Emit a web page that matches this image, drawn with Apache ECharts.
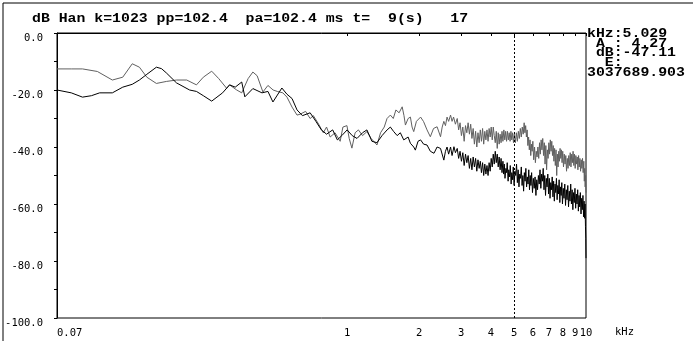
<!DOCTYPE html>
<html>
<head>
<meta charset="utf-8">
<script src="https://cdn.jsdelivr.net/npm/echarts@6/dist/echarts.min.js"></script>
<style>
  html, body { margin: 0; padding: 0; background: #fff; }
  #spec { width: 693px; height: 341px; }
</style>
</head>
<body>
<div id="spec"></div>
<script>
// header and cursor readout
const headerText = 'dB Han k=1023 pp=102.4  pa=102.4 ms t=  9(s)   17';
const cursorLines = ['kHz:5.029', ' A : 4.27', ' dB:-47.11', '  E:', '3037689.903'];
const cursorFreq = 5.029;

// axes
const freqMin = 0.061;
const freqMax = 10;
const freqTicks = [1, 2, 3, 4, 5, 6, 7, 8, 9, 10];
const dbMin = -100;
const dbMax = 0;

// gray trace [kHz, dB]
const grayTrace = [
  [0.061, -12.6], [0.07, -12.6], [0.078, -12.6], [0.09, -13.5], [0.104, -16.5], [0.115, -15.5],
  [0.126, -10.8], [0.135, -12], [0.145, -15.5], [0.159, -17.7], [0.175, -17], [0.193, -16.5],
  [0.213, -16.5], [0.234, -18.2], [0.25, -15.5], [0.271, -13.4], [0.29, -16], [0.313, -19.4],
  [0.322, -18.2], [0.345, -20], [0.362, -21], [0.385, -16], [0.403, -13.7], [0.42, -15],
  [0.444, -20.7], [0.466, -18.4], [0.49, -20], [0.51, -20.5], [0.538, -21], [0.56, -22.5],
  [0.588, -26], [0.617, -28.8], [0.635, -28.5], [0.67, -27.5], [0.7, -30], [0.722, -29],
  [0.76, -32], [0.795, -35], [0.82, -33], [0.849, -36.5], [0.89, -35], [0.935, -38],
  [0.96, -33], [0.998, -32.5], [1.02, -37], [1.047, -40.4], [1.08, -35], [1.115, -34],
  [1.16, -36], [1.21, -34.6], [1.26, -37], [1.333, -39.3], [1.38, -35], [1.43, -33],
  [1.469, -30], [1.517, -28.8], [1.56, -30], [1.6, -27], [1.65, -28], [1.7, -25.9],
  [1.73, -29], [1.754, -32.3], [1.8, -30], [1.84, -29.5], [1.87, -33], [1.9, -34.6],
  [1.95, -31], [2.03, -29.5], [2.09, -31.1], [2.16, -34], [2.23, -36.4], [2.3, -33.5],
  [2.38, -32.9], [2.46, -36.4],
  [2.50, -33], [2.54, -31], [2.58, -32.5], [2.62, -29.5], [2.66, -31], [2.71, -28.8], [2.75, -31],
  [2.79, -29.5], [2.84, -32], [2.89, -30], [2.93, -34], [2.97, -31.5], [3.01, -36], [3.05, -33],
  [3.09, -38], [3.13, -32.5], [3.17, -35], [3.21, -31.5], [3.25, -35.5], [3.29, -32], [3.33, -37],
  [3.37, -33.5], [3.41, -39], [3.45, -34.5], [3.49, -40], [3.53, -35], [3.57, -38.5], [3.61, -34],
  [3.65, -38], [3.69, -33.5], [3.73, -39], [3.77, -34.5], [3.81, -37.5], [3.85, -34], [3.89, -38],
  [3.93, -33.5], [3.97, -36.5], [4.01, -33], [4.05, -37.5], [4.09, -33], [4.13, -36], [4.17, -38.5],
  [4.21, -34.5], [4.25, -40.5], [4.29, -35], [4.33, -39], [4.37, -35.5], [4.41, -38.5], [4.45, -34.5],
  [4.49, -38], [4.53, -34], [4.57, -37.5], [4.61, -34.5], [4.65, -38], [4.69, -34.5], [4.73, -37.5],
  [4.77, -35], [4.81, -38], [4.85, -34.5], [4.89, -37.5], [4.93, -35], [4.97, -38.5], [5.01, -35.5],
  [5.06, -38.5], [5.11, -35], [5.16, -38], [5.21, -34.5], [5.26, -37], [5.31, -33.5], [5.36, -36.5],
  [5.41, -33], [5.46, -35.5],
  [5.51, -31.5], [5.55, -35], [5.59, -32.5], [5.63, -36.5], [5.67, -34], [5.71, -39.5], [5.75, -36.5],
  [5.79, -41], [5.83, -37.5], [5.87, -43], [5.91, -39], [5.95, -41.5], [5.99, -38], [6.04, -44.5],
  [6.09, -40], [6.14, -45.5], [6.19, -41.5], [6.24, -43.5], [6.29, -40], [6.34, -44], [6.39, -38.5],
  [6.44, -42.5], [6.49, -37.5], [6.54, -41], [6.59, -37], [6.64, -43], [6.69, -38.5], [6.74, -46],
  [6.79, -39.5], [6.84, -48], [6.89, -41], [6.94, -44], [6.99, -38.5], [7.04, -42.5], [7.09, -37.5],
  [7.14, -41.5], [7.19, -38], [7.24, -43], [7.29, -39.5], [7.34, -45], [7.39, -40.5], [7.44, -46.5],
  [7.49, -41], [7.54, -50], [7.59, -42.5], [7.64, -47], [7.69, -41.5], [7.74, -45], [7.79, -40.5],
  [7.84, -44], [7.89, -41], [7.94, -45.5], [7.99, -41.5], [8.05, -47], [8.11, -42.5], [8.17, -46],
  [8.23, -43], [8.29, -48.5], [8.35, -44], [8.41, -47.5], [8.47, -43], [8.53, -46.5], [8.59, -42],
  [8.65, -47], [8.71, -42.5], [8.77, -45.5], [8.83, -41.5], [8.89, -46.5], [8.95, -42.5], [9.01, -47.5],
  [9.07, -43], [9.13, -46], [9.19, -43.5], [9.25, -48], [9.31, -43], [9.37, -47], [9.43, -44],
  [9.49, -48.5], [9.55, -44.5], [9.61, -47.5], [9.67, -44], [9.73, -49], [9.79, -45], [9.84, -52],
  [9.88, -47.5], [9.92, -54], [9.96, -50], [10.0, -56]
];

// black trace [kHz, dB]
const blackTrace = [
  [0.061, -20], [0.07, -21], [0.078, -22.5], [0.085, -22], [0.092, -21], [0.104, -21],
  [0.115, -19], [0.126, -18], [0.135, -16.5], [0.145, -14.5], [0.159, -12], [0.167, -12.5],
  [0.175, -14], [0.193, -17.5], [0.219, -20], [0.234, -20.5], [0.25, -22], [0.271, -23.9],
  [0.301, -21], [0.322, -18.2], [0.34, -19], [0.362, -17.2], [0.373, -22.4], [0.403, -19.5],
  [0.44, -21], [0.466, -20.5], [0.489, -24.2], [0.533, -19.3], [0.56, -21.5], [0.588, -23],
  [0.617, -27], [0.65, -29], [0.7, -28], [0.74, -31], [0.78, -34], [0.82, -35.5],
  [0.87, -34], [0.91, -37.5], [0.95, -36], [1.0, -34], [1.05, -36], [1.1, -37],
  [1.16, -35], [1.21, -34], [1.27, -38], [1.333, -38.5], [1.4, -36], [1.47, -34],
  [1.517, -33], [1.567, -34.6], [1.62, -36], [1.67, -35], [1.726, -37.5], [1.754, -38],
  [1.8, -36.5], [1.84, -38.7], [1.9, -40], [1.93, -41.1], [1.98, -38], [2.03, -37.5],
  [2.09, -39], [2.16, -39.3], [2.23, -41.5], [2.31, -42.2], [2.38, -40], [2.46, -40.5],
  [2.50, -41], [2.54, -44.6], [2.58, -41.5], [2.62, -40], [2.66, -42.5], [2.71, -40], [2.75, -43],
  [2.80, -39.9], [2.84, -42], [2.89, -40.5], [2.93, -44], [2.97, -41.5], [3.01, -45], [3.05, -42],
  [3.09, -46.5], [3.13, -42.5], [3.17, -45.5], [3.21, -43], [3.25, -47.5], [3.29, -44], [3.33, -48],
  [3.37, -43.5], [3.41, -47], [3.45, -44], [3.49, -48.5], [3.53, -44.5], [3.57, -47.5], [3.61, -45],
  [3.65, -49], [3.69, -45.5], [3.73, -50], [3.77, -46], [3.81, -49.5], [3.85, -46.5], [3.89, -50],
  [3.93, -45.5], [3.97, -48.5], [4.01, -44], [4.05, -47], [4.09, -42.5], [4.13, -46], [4.17, -41.5],
  [4.21, -45.5], [4.25, -42.5], [4.29, -47], [4.33, -43.5], [4.37, -48], [4.41, -44], [4.45, -49],
  [4.49, -45], [4.52, -49.5], [4.55, -46], [4.58, -51], [4.62, -47.5], [4.65, -49], [4.68, -45.5],
  [4.72, -52], [4.75, -48], [4.79, -50.5], [4.82, -46.5], [4.86, -53], [4.89, -49], [4.93, -51.5],
  [4.96, -47], [5.00, -53.5], [5.04, -48.5], [5.08, -50], [5.12, -46], [5.16, -52.5], [5.20, -48],
  [5.24, -54], [5.28, -49.5], [5.32, -51], [5.36, -47], [5.40, -53.5], [5.44, -50], [5.48, -55.5],
  [5.52, -49], [5.56, -52], [5.60, -47.5], [5.64, -54], [5.68, -50.5], [5.72, -53], [5.76, -48],
  [5.80, -55], [5.84, -50], [5.88, -53.5], [5.92, -49], [5.97, -56], [6.02, -51], [6.07, -54.5],
  [6.12, -50.5], [6.17, -57], [6.22, -51.5], [6.27, -55], [6.32, -50], [6.37, -53], [6.42, -48],
  [6.47, -54.5], [6.52, -49.5], [6.57, -52], [6.62, -47.5], [6.67, -55], [6.72, -50], [6.77, -57],
  [6.82, -51], [6.87, -54], [6.92, -49.5], [6.97, -56.5], [7.02, -51], [7.07, -58], [7.12, -52.5],
  [7.17, -55], [7.22, -50.5], [7.27, -57.5], [7.32, -52], [7.37, -59], [7.42, -53], [7.47, -56],
  [7.52, -51], [7.57, -58.5], [7.62, -53.5], [7.67, -56.5], [7.72, -51.5], [7.77, -59.5], [7.82, -54],
  [7.87, -57], [7.92, -52.5], [7.97, -60], [8.03, -54.5], [8.09, -58], [8.15, -53], [8.21, -60.5],
  [8.27, -55], [8.33, -58.5], [8.39, -53.5], [8.45, -61], [8.51, -55.5], [8.57, -59], [8.63, -53],
  [8.69, -60], [8.75, -55], [8.81, -62], [8.87, -56], [8.93, -59.5], [8.99, -54.5], [9.05, -61.5],
  [9.11, -56.5], [9.17, -60], [9.23, -55], [9.29, -62.5], [9.35, -57], [9.41, -61], [9.47, -56],
  [9.53, -63.5], [9.59, -58], [9.65, -62], [9.71, -57], [9.77, -64.5], [9.82, -59], [9.87, -65],
  [9.91, -60], [9.95, -68], [9.98, -72], [10.0, -79]
];

const chart = echarts.init(document.getElementById('spec'), null, { renderer: 'canvas' });
const monoFont = '"DejaVu Sans Mono", monospace';
const headFont = 'bold 12px "Liberation Mono", "DejaVu Sans Mono", monospace';
const stretch = 1.236; // the screen font is wider than any installed mono

// readout rows: one text per row, centre y of each row
const rowY = [34, 43.5, 53, 62.5, 72.5];
const readout = cursorLines.map((t, i) => ({
  type: 'text', x: 587, y: rowY[i], scaleX: stretch,
  style: { text: t, font: headFont, fill: '#000', verticalAlign: 'middle' }
}));

const option = {
  animation: false,
  backgroundColor: '#fff',
  grid: {
    left: 57, top: 33, width: 529, height: 285,
    show: true, borderColor: '#000', borderWidth: 1,
    outerBoundsMode: 'none'
  },
  xAxis: {
    type: 'log',
    min: freqMin,
    max: freqMax,
    axisLine: { lineStyle: { color: '#000', width: 1 } },
    axisTick: { show: true, length: 3, customValues: freqTicks, lineStyle: { color: '#000' } },
    axisLabel: {
      customValues: [freqMin].concat(freqTicks),
      formatter: v => (v < 0.07 ? '0.07' : String(Math.round(v))),
      alignMinLabel: 'left',
      color: '#000', fontFamily: monoFont, fontSize: 10.5, margin: 10
    },
    splitLine: { show: false },
    minorTick: { show: false }
  },
  yAxis: {
    type: 'value',
    min: dbMin,
    max: dbMax,
    interval: 20,
    axisLine: { show: true, lineStyle: { color: '#000', width: 1 } },
    axisTick: { show: true, length: 3, lineStyle: { color: '#000' } },
    minorTick: { show: true, splitNumber: 2, length: 3, lineStyle: { color: '#000' } },
    axisLabel: {
      formatter: v => v.toFixed(1),
      color: '#000', fontFamily: monoFont, fontSize: 10.5, margin: 14,
      verticalAlign: 'top'
    },
    splitLine: { show: false }
  },
  series: [
    {
      name: 'gray', type: 'line', data: grayTrace, showSymbol: false, symbol: 'none',
      lineStyle: { color: '#606060', width: 1 }, z: 2,
      markLine: {
        silent: true, symbol: 'none', label: { show: false },
        lineStyle: { color: '#000', width: 1, type: [2, 2] },
        data: [{ xAxis: cursorFreq }]
      }
    },
    {
      name: 'black', type: 'line', data: blackTrace, showSymbol: false, symbol: 'none',
      lineStyle: { color: '#000', width: 1 }, z: 3
    }
  ],
  graphic: [
    { type: 'line', shape: { x1: 3, y1: 3, x2: 693, y2: 3 }, style: { stroke: '#000', lineWidth: 1 } },
    { type: 'line', shape: { x1: 3, y1: 3, x2: 3, y2: 341 }, style: { stroke: '#000', lineWidth: 1 } },
    {
      type: 'text', x: 32, y: 19, scaleX: stretch,
      style: { text: headerText, font: headFont, fill: '#000', verticalAlign: 'middle' }
    },
    {
      type: 'text', x: 615, y: 332,
      style: { text: 'kHz', font: '10.5px ' + monoFont, fill: '#000', verticalAlign: 'middle' }
    }
  ].concat(readout)
};

chart.setOption(option);
</script>
</body>
</html>
